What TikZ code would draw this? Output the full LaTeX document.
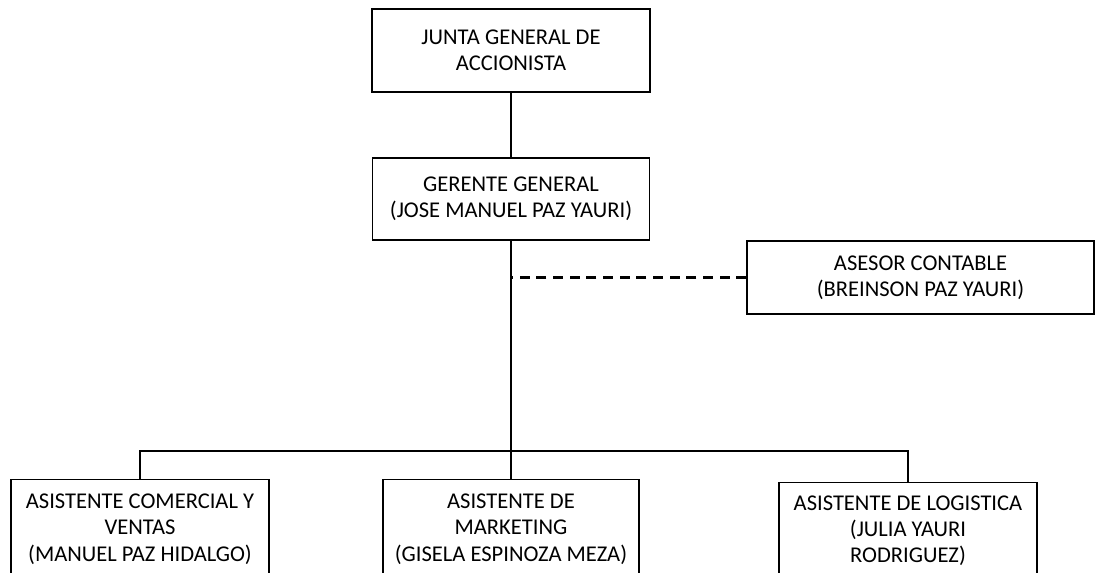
\documentclass[tikz,border=0pt]{standalone}
\usepackage{fontspec}
\setmainfont{Carlito}
\usepackage{tikz}
\usetikzlibrary{positioning, calc}
\tikzset{
    box/.style={draw, line width=1.1pt, align=center, inner sep=0pt, font=\fontsize{16.9}{19.6}\selectfont},
    link/.style={line width=1.4pt},
    thin_link/.style={line width=0.8pt},
    dashed_link/.style={line width=1.6pt, dash pattern=on 7.5pt off 5pt}
}

\begin{document}
\begin{tikzpicture}[x=0.75pt, y=-0.75pt]
    \useasboundingbox (0,0) rectangle (1099,573);
    % Junta + Gerente
    \node[box, minimum width=278*0.75pt, minimum height=83*0.75pt] (junta) at (511,50.5) {JUNTA GENERAL DE\\ACCIONISTA};
    \node[box, minimum width=277*0.75pt, minimum height=82*0.75pt] (gerente) at (511,199) {GERENTE GENERAL\\(JOSE MANUEL PAZ YAURI)};
    \draw[thin_link] (junta.south) -- (gerente.north);
    % Asesor
    \node[box, minimum width=347*0.75pt, minimum height=73*0.75pt] (asesor) at (920.5,277.5) {ASESOR CONTABLE\\(BREINSON PAZ YAURI)};
    \draw[dashed_link] (asesor.west) -- (asesor.west -| gerente.south);
    % Asistentes
    \node[box, anchor=north, minimum width=258*0.75pt, minimum height=99*0.75pt] (comercial) at (140,479) {ASISTENTE COMERCIAL Y\\VENTAS\\(MANUEL PAZ HIDALGO)};
    \node[box, anchor=north, minimum width=256*0.75pt, minimum height=99*0.75pt] (marketing) at (511,479) {ASISTENTE DE\\MARKETING\\(GISELA ESPINOZA MEZA)};
    \node[box, anchor=north, minimum width=258*0.75pt, minimum height=96*0.75pt] (logistica) at (908,482) {ASISTENTE DE LOGISTICA\\(JULIA YAURI\\RODRIGUEZ)};
    \coordinate (bus) at (511,451);
    \draw[link] (gerente.south) -- (bus);
    \draw[link] (bus) -| (comercial.north);
    \draw[link] (bus) -- (marketing.north);
    \draw[link] (bus) -| (logistica.north);
\end{tikzpicture}
\end{document}
